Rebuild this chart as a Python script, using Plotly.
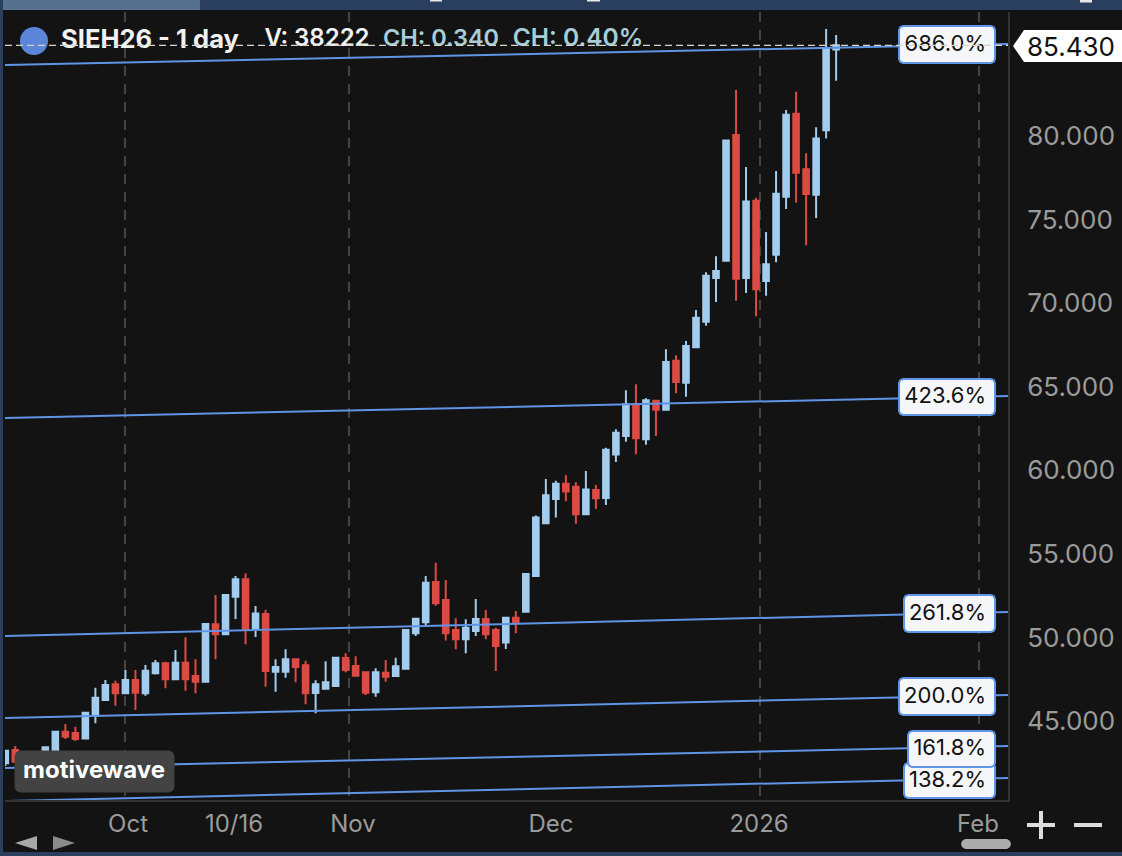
"""SIEH26 daily candles with fib extension lines, MotiveWave style."""
import plotly.graph_objects as go

UP, DOWN = "#a3cdee", "#dc4b43"
FIB = "#5f94e6"
BG = "#131313"
FONT = "Inter"

opens = [42.47, 43.26, 42.07, 42.91, 42.67, 43.20, 44.36, 44.28, 43.96, 45.32, 46.26, 47.20,
         46.66, 47.45, 46.66, 47.85, 48.45, 47.50, 48.49, 47.69, 47.35, 50.79, 50.19, 52.44,
         53.48, 50.55, 51.40, 47.95, 47.95, 48.69, 48.33, 46.68, 46.93, 47.09, 48.77, 48.29,
         47.91, 46.72, 47.89, 47.69, 48.13, 50.25, 50.91, 53.32, 52.24, 50.45, 49.89, 50.39,
         51.10, 50.45, 49.69, 51.18, 51.54, 53.68, 56.83, 58.28, 59.20, 59.02, 57.37, 58.82,
         58.34, 60.94, 62.05, 63.95, 61.86, 64.17, 63.63, 66.56, 65.24, 67.36, 68.89, 71.51,
         72.54, 80.07, 71.51, 76.13, 71.33, 72.90, 76.37, 81.34, 78.01, 76.49, 80.35, 85.19]
highs = [43.26, 43.50, 43.14, 43.14, 43.44, 44.40, 44.82, 44.66, 45.54, 46.99, 47.45, 47.41,
         48.05, 48.05, 48.35, 48.65, 48.55, 49.25, 50.01, 48.69, 50.86, 52.54, 52.60, 53.68,
         53.84, 51.88, 51.66, 48.69, 49.29, 48.72, 48.61, 47.44, 48.57, 48.81, 49.05, 48.87,
         47.93, 48.15, 48.65, 48.79, 50.46, 51.15, 53.68, 54.47, 53.44, 51.15, 51.09, 52.30,
         51.64, 50.58, 51.21, 51.58, 53.81, 57.29, 59.48, 59.38, 59.72, 59.28, 59.96, 59.12,
         61.35, 62.46, 64.79, 65.15, 64.31, 64.19, 67.24, 66.88, 67.74, 69.59, 71.85, 72.81,
         79.75, 82.76, 78.15, 76.31, 74.26, 77.91, 81.56, 82.66, 78.97, 80.53, 86.41, 86.05]
lows = [42.31, 42.49, 41.89, 42.19, 42.49, 43.03, 43.92, 43.80, 43.92, 44.86, 46.20, 45.92,
        46.62, 45.66, 46.51, 47.79, 46.96, 47.45, 46.81, 46.66, 47.32, 48.69, 50.15, 51.10,
        49.59, 50.03, 47.05, 46.75, 47.59, 47.32, 46.00, 45.46, 46.87, 47.05, 47.91, 47.69,
        46.56, 46.45, 47.35, 47.67, 48.11, 50.09, 50.68, 51.90, 49.81, 49.29, 49.05, 50.09,
        49.89, 47.99, 49.31, 50.25, 51.48, 53.62, 56.79, 57.17, 58.15, 56.81, 57.31, 57.69,
        57.93, 60.50, 61.71, 60.96, 61.53, 62.05, 63.61, 64.61, 64.41, 67.32, 68.65, 70.07,
        72.53, 70.15, 70.61, 69.22, 70.45, 72.45, 75.64, 76.02, 73.47, 75.10, 79.85, 83.32]
closes = [43.22, 42.56, 42.97, 42.43, 43.43, 44.36, 44.06, 43.92, 45.50, 46.39, 47.15, 46.66,
          47.45, 46.69, 48.01, 48.45, 47.50, 48.49, 47.50, 47.35, 50.80, 50.19, 52.54, 53.48,
          50.49, 51.44, 47.99, 48.23, 48.69, 48.23, 46.66, 47.20, 47.32, 48.79, 48.05, 47.71,
          46.69, 47.91, 47.65, 48.27, 50.45, 51.12, 53.28, 52.04, 50.25, 49.89, 50.58, 51.10,
          50.19, 49.49, 51.18, 50.92, 53.80, 57.17, 58.51, 59.20, 58.74, 57.37, 58.86, 58.33,
          61.23, 62.25, 63.95, 61.92, 64.19, 63.63, 66.48, 65.29, 67.44, 69.13, 71.65, 71.93,
          79.73, 71.47, 76.08, 70.83, 72.33, 76.55, 81.28, 77.81, 76.54, 79.85, 85.21, 85.43]
sessions = list(range(len(closes)))

fib_names = ["686.0%", "423.6%", "261.8%", "200.0%", "161.8%", "138.2%"]
fib_start = [84.26, 63.13, 50.09, 45.18, 42.19, 40.21]
fib_end = [85.51, 64.45, 51.52, 46.56, 43.50, 41.59]
# label boxes: left, top, right, bottom in page pixels
fib_boxes = [(899, 26, 995, 63), (899, 379, 995, 415), (904, 595, 995, 632),
             (899, 678, 995, 715), (908, 731, 995, 767), (904, 763, 995, 798)]
fib_order = [0, 1, 2, 3, 5, 4]  # 161.8 box sits on top of 138.2

price_ticks = [45, 50, 55, 60, 65, 70, 75, 80]
date_labels = ["Oct", "10/16", "Nov", "Dec", "2026", "Feb"]
date_ticks = [12.26, 22.85, 34.73, 54.52, 75.3, 97.17]
grid_ticks = [11.96, 34.34, 75.43, 97.27]
last_price = 85.43

PLOT_L, PLOT_R, PLOT_T, PLOT_B = 5, 1008, 12, 800
W, H = 1122, 856


def dx(px):
    return (px - 5.3) / 10.01


def dy(py):
    return 45 + (721 - py) * 0.05984


def pap_x(px):
    return (px - PLOT_L) / (PLOT_R - PLOT_L)


def pap_y(py):
    return (PLOT_B - py) / (PLOT_B - PLOT_T)


def page_path(points):
    # closed path through page-pixel points, in paper units
    return "M " + " L ".join("{} {}".format(pap_x(x), pap_y(y)) for x, y in points) + " Z"


def page_rect(x0, y0, x1, y1, color):
    return dict(type="rect", xref="paper", yref="paper", x0=pap_x(x0), x1=pap_x(x1), y0=pap_y(y0), y1=pap_y(y1),
                fillcolor=color, line_width=0)


def page_line(x0, y0, x1, y1, color, width):
    return dict(type="line", xref="paper", yref="paper", x0=pap_x(x0), x1=pap_x(x1), y0=pap_y(y0), y1=pap_y(y1),
                line=dict(color=color, width=width))


def round_box(x0, y0, x1, y1, r=4):
    # rounded rectangle outline in data units, drawn as a filled trace
    xs = [x0 + r, x1 - r, x1 - r * 0.3, x1, x1, x1 - r * 0.3, x1 - r, x0 + r, x0 + r * 0.3, x0, x0, x0 + r * 0.3, x0 + r]
    ys = [y0, y0, y0 + r * 0.3, y0 + r, y1 - r, y1 - r * 0.3, y1, y1, y1 - r * 0.3, y1 - r, y0 + r, y0 + r * 0.3, y0]
    return [dx(v) for v in xs], [dy(v) for v in ys]


def text_trace(px, py, text, size, color, weight=400, pos="middle center"):
    return go.Scatter(x=[dx(px)], y=[dy(py)], mode="text", text=[text], textposition=pos,
                      textfont=dict(family=FONT, size=size, color=color, weight=weight),
                      hoverinfo="skip", showlegend=False, cliponaxis=False)


fig = go.Figure()
fig.add_trace(go.Candlestick(
    x=sessions, open=opens, high=highs, low=lows, close=closes, whiskerwidth=0,
    increasing=dict(line=dict(color=UP, width=2), fillcolor=UP),
    decreasing=dict(line=dict(color=DOWN, width=2), fillcolor=DOWN),
    hoverinfo="skip", showlegend=False))

for start, end in zip(fib_start, fib_end):
    fig.add_trace(go.Scatter(x=[dx(PLOT_L), dx(PLOT_R)], y=[start, end], mode="lines",
                             line=dict(color=FIB, width=2), hoverinfo="skip", showlegend=False))

# motivewave tag
bx, by = round_box(15, 751, 174, 792, r=5)
fig.add_trace(go.Scatter(x=bx, y=by, mode="lines", fill="toself", fillcolor="#434343",
                         line=dict(color="#434343", width=1), hoverinfo="skip", showlegend=False))
fig.add_trace(text_trace(94, 772, "motivewave", 24, "#ffffff", 700))

# fib labels
for k in fib_order:
    x0, y0, x1, y1 = fib_boxes[k]
    bx, by = round_box(x0, y0, x1, y1)
    fig.add_trace(go.Scatter(x=bx, y=by, mode="lines", fill="toself", fillcolor="#f5f6f8",
                             line=dict(color=FIB, width=2), hoverinfo="skip", showlegend=False))
    fig.add_trace(text_trace(986, (y0 + y1) / 2 + 0.5, fib_names[k], 22, "#111111", pos="middle left"))

# header text
fig.add_trace(text_trace(150, 42, "SIEH26 - 1 day", 25.5, "#f2f2f2", 700))
fig.add_trace(text_trace(317, 40, "V: 38222", 24, "#f2f2f2", 600))
fig.add_trace(text_trace(441, 40, "CH: 0.340", 23.5, "#a9cdd8", 600))
fig.add_trace(text_trace(578, 40, "CH: 0.40%", 24.5, "#a9cdd8", 600))

shapes = [
    # window frame
    page_rect(0, 0, W, 10, "#2a3f5f"),
    page_rect(0, 0, 200, 10, "#56708f"),
    page_rect(0, 0, 3, H, "#2a3f5f"),
    page_rect(0, 852, W, H, "#2a3f5f"),
    # tails of the cropped toolbar text
    page_rect(430, 0, 442, 1.5, "#e8e8e8"),
    page_rect(587, 0, 600, 1.5, "#e8e8e8"),
    page_rect(1080, 0, 1092, 2.5, "#e8e8e8"),
    # symbol dot
    dict(type="circle", xref="paper", yref="paper", x0=pap_x(20), x1=pap_x(48), y0=pap_y(27), y1=pap_y(55),
         fillcolor="#5b85d9", line_width=0),
    # last price line
    dict(type="line", xref="paper", yref="y", x0=0, x1=1, y0=last_price, y1=last_price, layer="above",
         line=dict(color="#d6d6c8", width=1.3, dash="7px,4px")),
    # last price flag, under the annotation that carries its text
    dict(type="path", xref="paper", yref="paper", fillcolor="#ffffff", line_width=0, layer="below",
         path=page_path([(1013, 46), (1024, 30), (1122, 30), (1122, 62), (1024, 62)])),
    # scroll arrows
    dict(type="path", xref="paper", yref="paper", fillcolor="#a8a8a8", line_width=0,
         path=page_path([(15, 843), (37, 836), (37, 850)])),
    dict(type="path", xref="paper", yref="paper", fillcolor="#8a8a8a", line_width=0,
         path=page_path([(75, 843), (53, 836), (53, 850)])),
    # zoom buttons
    page_line(1027, 825, 1055, 825, "#dddddd", 4),
    page_line(1041, 811, 1041, 839, "#dddddd", 4),
    page_line(1074, 825, 1102, 825, "#dddddd", 4),
    # scrollbar pill
    dict(type="path", xref="paper", yref="paper", fillcolor="#ababab", line_width=0,
         path=page_path([(965, 839), (1007, 839), (1010, 841), (1011, 844), (1010, 847), (1007, 849),
                         (965, 849), (962, 847), (961, 844), (962, 841)])),
]

fig.update_layout(
    width=W, height=H, autosize=False,
    paper_bgcolor=BG, plot_bgcolor=BG,
    margin=dict(l=PLOT_L, r=W - PLOT_R, t=PLOT_T, b=H - PLOT_B, pad=0),
    showlegend=False, shapes=shapes, hovermode=False, boxgap=0.2,
    font=dict(family=FONT),
    annotations=[dict(xref="paper", yref="paper", x=pap_x(1071), y=pap_y(47), text="85.430", showarrow=False,
                      xanchor="center", yanchor="middle",
                      font=dict(family=FONT, size=26, color="#111111"))],
    xaxis=dict(range=[dx(PLOT_L), dx(PLOT_R)], rangeslider=dict(visible=False), showgrid=False, zeroline=False,
               tickmode="array", tickvals=date_ticks, ticktext=date_labels,
               ticks="outside", ticklen=1, tickcolor=BG, showline=True, linecolor="#333333", linewidth=2,
               tickfont=dict(family=FONT, size=24, color="#9b9b9b"),
               minor=dict(tickmode="array", tickvals=grid_ticks, showgrid=True, gridcolor="#444444",
                          gridwidth=2, griddash="10px,8px", ticks="")),
    yaxis=dict(range=[dy(PLOT_B), dy(PLOT_T)], side="right", showgrid=False, zeroline=False,
               tickmode="array", tickvals=price_ticks, tickformat=".3f",
               ticks="outside", ticklen=12, tickcolor=BG, showline=True, linecolor="#333333", linewidth=2,
               tickfont=dict(family=FONT, size=26, color="#9b9b9b")),
)

fig.write_html("out.html", config={"displayModeBar": False},
               post_script="document.body.style.margin='0';document.body.style.overflow='hidden';")
